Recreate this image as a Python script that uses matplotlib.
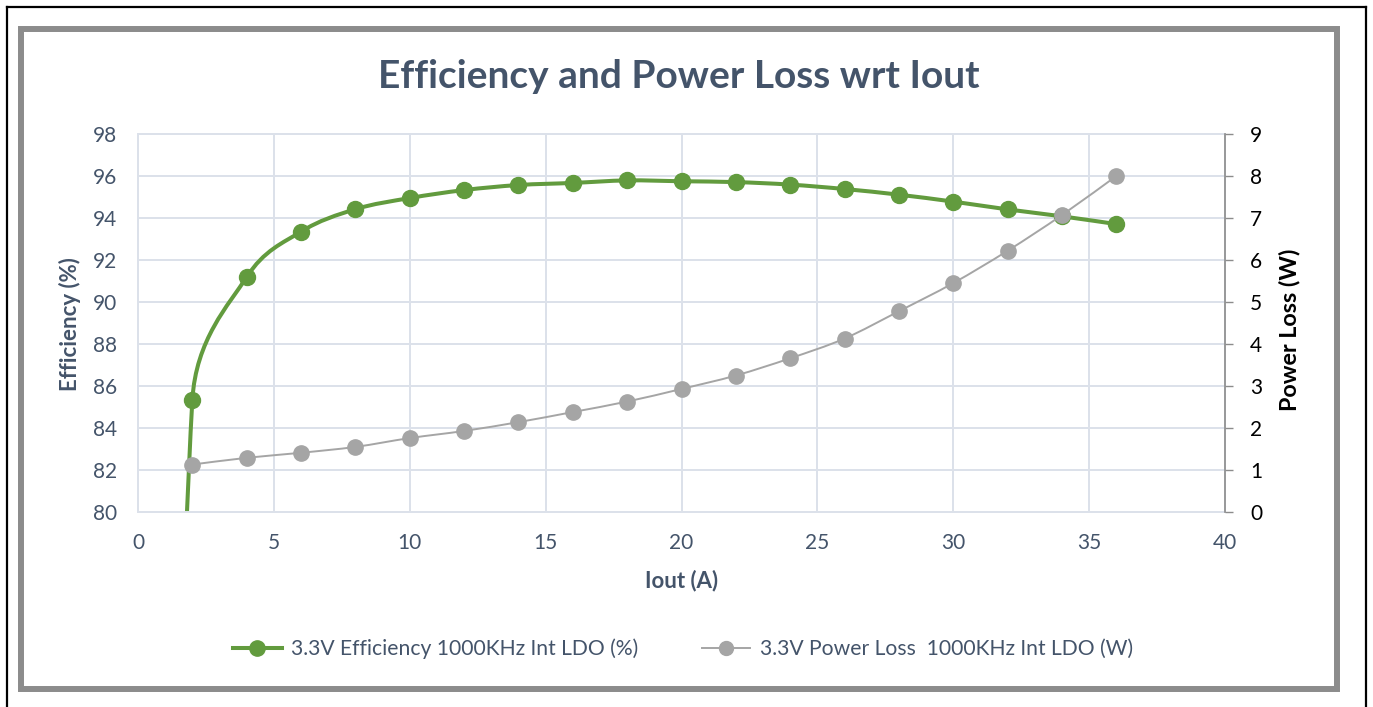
import numpy as np
import matplotlib
matplotlib.use("Agg")
import matplotlib.pyplot as plt
from matplotlib.path import Path
from matplotlib.patches import PathPatch, Rectangle
from matplotlib.lines import Line2D

# data
iout = [2, 4, 6, 8, 10, 12, 14, 16, 18, 20, 22, 24, 26, 28, 30, 32, 34, 36]
efficiency = [85.33, 91.19, 93.35, 94.42, 94.95, 95.33, 95.57, 95.67, 95.79, 95.75,
              95.71, 95.59, 95.38, 95.11, 94.78, 94.41, 94.08, 93.71]
power_loss = [1.13, 1.29, 1.41, 1.55, 1.76, 1.93, 2.14, 2.38, 2.63, 2.93,
              3.25, 3.66, 4.13, 4.78, 5.45, 6.22, 7.07, 8.00]
# the efficiency curve runs down off the axis before 2 A (zero-load point)
eff_start_x = 0
eff_start_y = 0

eff_label = "3.3V Efficiency 1000KHz Int LDO (%)"
loss_label = "3.3V Power Loss  1000KHz Int LDO (W)"

GREEN = "#629B3E"
GREY = "#A5A5A5"
SLATE = "#44546A"
GRID = "#DCE1EA"

plt.rcParams['font.family'] = ['Lato', 'DejaVu Sans']

W, H = 1373, 707
fig = plt.figure(figsize=(W / 100, H / 100), dpi=100)
fig.subplots_adjust(left=138 / W, right=1225 / W, top=1 - 134 / H, bottom=1 - 512 / H)
ax = fig.add_subplot(111)
ax2 = ax.twinx()


def px(x, y):
    return x / W, 1 - y / H


def smooth_path(axis, xs, ys):
    # excel-like smoothed line: bezier segments, built in display space
    pts = axis.transData.transform(np.column_stack([xs, ys]))
    n = len(pts)
    verts = [pts[0]]
    codes = [Path.MOVETO]
    for i in range(n - 1):
        p0 = pts[i - 1] if i > 0 else pts[i]
        p1 = pts[i]
        p2 = pts[i + 1]
        p3 = pts[i + 2] if i + 2 < n else pts[i + 1]
        seg = np.hypot(*(p2 - p1))
        d1 = (p2 - p0) / 6
        d2 = (p3 - p1) / 6
        for d in (d1, d2):
            ln = np.hypot(*d)
            if ln > 0.45 * seg:
                d *= 0.45 * seg / ln
        verts += [p1 + d1, p2 - d2, p2]
        codes += [Path.CURVE4] * 3
    return Path(axis.transData.inverted().transform(np.array(verts)), codes)


ax.set_xlim(0, 40)
ax.set_ylim(80, 98)
ax2.set_ylim(0, 9)
ax.set_xticks(np.arange(0, 41, 5))
ax.set_yticks(np.arange(80, 99, 2))
ax2.set_yticks(np.arange(0, 10, 1))

ax.grid(True, color=GRID, linewidth=1.4)
ax.set_axisbelow(True)
for s in ax.spines.values():
    s.set_color(GRID)
    s.set_linewidth(1.4)
for s in ('left', 'top', 'bottom'):
    ax2.spines[s].set_visible(False)
ax2.spines['right'].set_color("#8C8C8C")
ax2.spines['right'].set_linewidth(1.2)

ax.tick_params(axis='both', length=0, labelsize=15, labelcolor=SLATE, pad=15)
ax2.tick_params(axis='y', length=6, width=1.0, color="#8C8C8C", labelsize=15,
                labelcolor='black', pad=12)

eff_x = [eff_start_x] + iout
eff_y = [eff_start_y] + efficiency
ax.add_patch(PathPatch(smooth_path(ax, eff_x, eff_y), facecolor='none',
                       edgecolor=GREEN, linewidth=2.9, capstyle='round'))
ax.plot(iout, efficiency, linestyle='none', marker='o', markersize=11.5, color=GREEN)

ax2.add_patch(PathPatch(smooth_path(ax2, iout, power_loss), facecolor='none',
                        edgecolor=GREY, linewidth=1.4))
ax2.plot(iout, power_loss, linestyle='none', marker='o', markersize=11, color=GREY)

fig.text(*px(679, 77), "Efficiency and Power Loss wrt Iout", ha='center', va='center',
         fontsize=28, fontweight='bold', color=SLATE)
fig.text(*px(682, 581), "Iout (A)", ha='center', va='center', fontsize=16,
         fontweight='bold', color=SLATE)
fig.text(*px(70, 324), "Efficiency (%)", ha='center', va='center', rotation=90,
         fontsize=16, fontweight='bold', color=SLATE)
fig.text(*px(1290, 330), "Power Loss (W)", ha='center', va='center', rotation=90,
         fontsize=16.8, fontweight='bold', color='black')

handles = [Line2D([], [], color=GREEN, linewidth=2.9, marker='o', markersize=11),
           Line2D([], [], color=GREY, linewidth=1.4, marker='o', markersize=10)]
fig.legend(handles, [eff_label, loss_label], loc='center', bbox_to_anchor=px(683, 649),
           ncol=2, frameon=False, fontsize=15.2, labelcolor=SLATE, handlelength=2.3,
           handletextpad=0.45, columnspacing=3.0)

# chart frame and outer border
fig.patches.append(Rectangle(px(21, 689), 1316 / W, 660 / H, transform=fig.transFigure,
                             fill=False, edgecolor="#8C8C8C", linewidth=4.3))
for xy in ([(7, 7), (7, H)], [(7, 7), (1366, 7)], [(1366, 7), (1366, H)]):
    (x0, y0), (x1, y1) = xy
    fig.lines.append(Line2D([x0 / W, x1 / W], [1 - y0 / H, 1 - y1 / H],
                            transform=fig.transFigure, color='black', linewidth=1.6))

fig.savefig("out.png", dpi=100)
